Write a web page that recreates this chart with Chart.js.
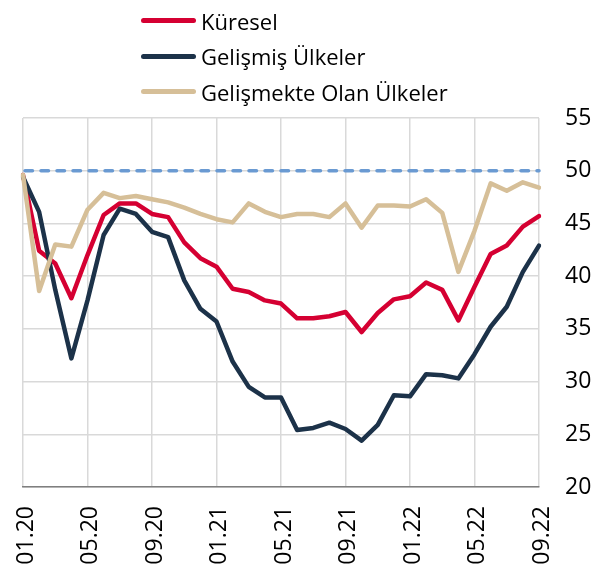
<!DOCTYPE html>
<html>
<head>
<meta charset="utf-8">
<script src="https://cdn.jsdelivr.net/npm/chart.js@4"></script>
<style>
  html, body { margin: 0; padding: 0; background: #fff; }
  #wrap { position: relative; width: 609px; height: 569px; }
  #legend {
    position: absolute; left: 141px; top: 3px;
    font-family: "Open Sans", sans-serif; font-size: 22px; color: #000;
  }
  .row { display: flex; align-items: center; height: 35.5px; }
  .swatch { width: 55px; height: 5px; border-radius: 3px; margin-right: 5px; }
</style>
</head>
<body>
<div id="wrap">
  <canvas id="c" width="609" height="569"></canvas>
  <div id="legend"></div>
</div>
<script>
// aylar
const aylar = [
  "01.20", "02.20", "03.20", "04.20", "05.20", "06.20", "07.20", "08.20",
  "09.20", "10.20", "11.20", "12.20", "01.21", "02.21", "03.21", "04.21",
  "05.21", "06.21", "07.21", "08.21", "09.21", "10.21", "11.21", "12.21",
  "01.22", "02.22", "03.22", "04.22", "05.22", "06.22", "07.22", "08.22",
  "09.22"
];

const kuresel = [
  49.6, 42.4, 41.2, 37.9, 42.0, 45.8, 46.9, 46.9,
  45.9, 45.6, 43.2, 41.7, 40.9, 38.8, 38.5, 37.7,
  37.4, 36.0, 36.0, 36.2, 36.6, 34.7, 36.5, 37.8,
  38.1, 39.4, 38.7, 35.8, 39.0, 42.1, 42.9, 44.7,
  45.7
];

const gelismis = [
  49.4, 46.1, 38.7, 32.2, 37.7, 43.9, 46.4, 45.9,
  44.2, 43.7, 39.6, 36.9, 35.7, 31.9, 29.5, 28.5,
  28.5, 25.4, 25.6, 26.1, 25.5, 24.4, 25.9, 28.7,
  28.6, 30.7, 30.6, 30.3, 32.6, 35.2, 37.1, 40.4,
  42.9
];

const gelismekte = [
  49.6, 38.6, 43.0, 42.8, 46.3, 47.9, 47.4, 47.6,
  47.3, 47.0, 46.5, 45.9, 45.4, 45.1, 46.9, 46.1,
  45.6, 45.9, 45.9, 45.6, 46.9, 44.6, 46.7, 46.7,
  46.6, 47.3, 46.0, 40.4, 44.3, 48.8, 48.1, 48.9,
  48.4
];

const esikDegeri = 50;
const yTicks = { min: 20, max: 55, step: 5 };

const seriler = [
  { label: "Küresel", data: kuresel, color: "#d50032", order: 2 },
  { label: "Gelişmiş Ülkeler", data: gelismis, color: "#1c3249", order: 1 },
  { label: "Gelişmekte Olan Ülkeler", data: gelismekte, color: "#d6bf98", order: 0 }
];

// legend
const legend = document.getElementById("legend");
seriler.forEach(s => {
  const row = document.createElement("div");
  row.className = "row";
  row.innerHTML = '<span class="swatch" style="background:' + s.color + '"></span><span>' + s.label + '</span>';
  legend.appendChild(row);
});

// 50 çizgisi
const esikPlugin = {
  id: "esik",
  beforeDatasetsDraw(chart) {
    const { ctx, chartArea, scales } = chart;
    const y = scales.y.getPixelForValue(esikDegeri);
    ctx.save();
    ctx.strokeStyle = "#6a9ad2";
    ctx.lineWidth = 3.5;
    ctx.lineCap = "round";
    ctx.setLineDash([7.5, 8.5]);
    ctx.beginPath();
    ctx.moveTo(chartArea.left + 2, y);
    ctx.lineTo(chartArea.right, y);
    ctx.stroke();
    ctx.restore();
  }
};

new Chart(document.getElementById("c"), {
  type: "line",
  data: {
    labels: aylar,
    datasets: seriler.map(s => ({
      label: s.label,
      data: s.data,
      borderColor: s.color,
      backgroundColor: s.color,
      borderWidth: 4.5,
      borderJoinStyle: "round",
      borderCapStyle: "round",
      pointRadius: 0,
      tension: 0,
      order: s.order
    }))
  },
  options: {
    responsive: false,
    devicePixelRatio: 1,
    animation: false,
    layout: { padding: { top: 118, left: 23, right: 0, bottom: 0 } },
    plugins: { legend: { display: false }, tooltip: { enabled: false } },
    scales: {
      x: {
        afterFit: s => { s.height = 82; },
        grid: {
          drawTicks: false,
          lineWidth: 1.5,
          color: c => (c.index % 4 === 0 ? "#d9d9d9" : "rgba(0,0,0,0)")
        },
        border: { color: "#7f7f7f", width: 1.5 },
        ticks: {
          autoSkip: false,
          minRotation: 90,
          maxRotation: 90,
          padding: 19,
          labelOffset: 3,
          color: "#000",
          font: { family: "Open Sans", size: 23 },
          callback: (v, i) => (i % 4 === 0 ? aylar[i] : "")
        }
      },
      y: {
        position: "right",
        min: yTicks.min,
        max: yTicks.max,
        afterFit: s => { s.width = 70; },
        grid: { drawTicks: false, lineWidth: 1.5, color: "#d9d9d9" },
        border: { display: false },
        ticks: {
          stepSize: yTicks.step,
          padding: 26,
          color: "#000",
          font: { family: "Open Sans", size: 23 }
        }
      }
    }
  },
  plugins: [esikPlugin]
});
</script>
</body>
</html>
